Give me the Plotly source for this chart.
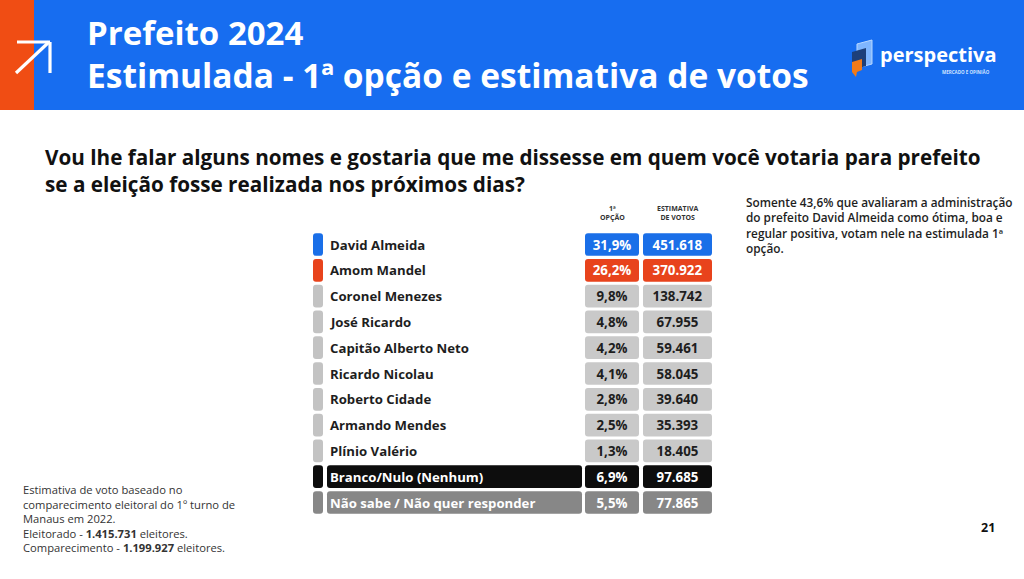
import plotly.graph_objects as go

W, H = 1024, 579

# --- dados ---
candidatos = ['David Almeida', 'Amom Mandel', 'Coronel Menezes', 'José Ricardo',
              'Capitão Alberto Neto', 'Ricardo Nicolau', 'Roberto Cidade',
              'Armando Mendes', 'Plínio Valério', 'Branco/Nulo (Nenhum)',
              'Não sabe / Não quer responder']
primeira_opcao = [31.9, 26.2, 9.8, 4.8, 4.2, 4.1, 2.8, 2.5, 1.3, 6.9, 5.5]
estimativa_votos = [451618, 370922, 138742, 67955, 59461, 58045, 39640,
                    35393, 18405, 97685, 77865]

AZUL = '#1a6fe8'
VERMELHO = '#e8431c'
CINZA = '#c9c9c9'
PRETO = '#0d0d0d'
CINZA_ESC = '#878787'

cor_marca = [AZUL, VERMELHO] + ['#c3c3c3'] * 7 + [PRETO, CINZA_ESC]
cor_celula = [AZUL, VERMELHO] + [CINZA] * 7 + [PRETO, CINZA_ESC]
cor_texto = ['white', 'white'] + ['#1e1e1e'] * 7 + ['white', 'white']
cor_nome_fundo = ['rgba(0,0,0,0)'] * 9 + [PRETO, CINZA_ESC]
cor_nome_texto = ['#1e1e1e'] * 9 + ['white', 'white']

txt_pct = [f'{v:.1f}'.replace('.', ',') + '%' for v in primeira_opcao]
txt_votos = [f'{v:,}'.replace(',', '.') for v in estimativa_votos]

FONTE = 'Open Sans'
n = len(candidatos)


def px(x):
    return x / W


def py(y):
    return 1 - y / H


fig = go.Figure()


def coluna(inicio, largura, cores, textos=None, cores_txt=None, anchor='middle', tam=14):
    fig.add_trace(go.Bar(
        y=candidatos, x=[largura] * n, base=[inicio] * n, orientation='h',
        width=0.88, marker=dict(color=cores, line=dict(width=0)),
        text=textos, textposition='inside' if textos else 'none',
        insidetextanchor=anchor, textangle=0, constraintext='none',
        textfont=dict(family=FONTE, size=tam, color=cores_txt, weight='bold'),
        hoverinfo='skip', showlegend=False, cliponaxis=False))


coluna(313, 10, cor_marca)
coluna(327, 255, cor_nome_fundo, candidatos, cor_nome_texto, 'start', 13.2)
coluna(585, 54, cor_celula, txt_pct, cor_texto, tam=13.3)
coluna(643, 69, cor_celula, txt_votos, cor_texto, tam=13.3)

shapes = [
    dict(type='rect', xref='paper', yref='paper', x0=px(0), x1=px(W), y0=py(0), y1=py(110),
         fillcolor='#176df0', line=dict(width=0), layer='below'),
    dict(type='rect', xref='paper', yref='paper', x0=px(0), x1=px(34), y0=py(0), y1=py(110),
         fillcolor='#f04d14', line=dict(width=0), layer='below'),
]
# seta
for (a, b, c, d) in [(16, 73, 49, 42), (17, 42, 50, 42), (50, 42, 50, 73)]:
    shapes.append(dict(type='line', xref='paper', yref='paper', x0=px(a), y0=py(b), x1=px(c), y1=py(d),
                       line=dict(color='white', width=3.2)))


def caminho(pts):
    return 'M ' + ' L '.join(f'{px(x):.5f},{py(y):.5f}' for x, y in pts) + ' Z'


# logo perspectiva
shapes += [
    dict(type='path', xref='paper', yref='paper', path=caminho([(857, 44), (872, 40), (872, 64), (857, 68)]),
         fillcolor='#7fb6ff', line=dict(color='#b9d8ff', width=1)),
    dict(type='path', xref='paper', yref='paper', path=caminho([(852, 52), (866, 48), (866, 66), (852, 70)]),
         fillcolor='#1d3f7a', line=dict(width=0)),
    dict(type='path', xref='paper', yref='paper', path=caminho([(852, 62), (862, 59), (862, 70), (857, 72), (856, 77), (852, 72)]),
         fillcolor='#f07a1a', line=dict(width=0)),
]

annotations = []


def texto(x, y, t, tam, cor='#111', peso='bold', xa='left', ya='middle', fam=FONTE, align='left'):
    annotations.append(dict(x=px(x), y=py(y), xref='paper', yref='paper', text=t, showarrow=False,
                            xanchor=xa, yanchor=ya, align=align,
                            font=dict(family=fam, size=tam, color=cor, weight=peso)))


texto(85, 33, 'Prefeito 2024', 33, 'white')
texto(85, 75, 'Estimulada - 1ª opção e estimativa de votos', 33.5, 'white')
texto(878, 55, 'perspectiva', 20, 'white')
texto(992, 72, 'MERCADO E OPINIÃO', 4.5, '#cfe2ff', xa='right')

texto(43, 157, 'Vou lhe falar alguns nomes e gostaria que me dissesse em quem você votaria para prefeito', 20.7)
texto(43, 184, 'se a eleição fosse realizada nos próximos dias?', 20.7)

texto(612, 213, '1ª<br>OPÇÃO', 7, '#333', xa='center', align='center')
texto(677, 213, 'ESTIMATIVA<br>DE VOTOS', 7, '#333', xa='center', align='center')

texto(744, 225, 'Somente 43,6% que avaliaram a administração<br>do prefeito David Almeida como ótima, boa e<br>'
      'regular positiva, votam nele na estimulada 1ª<br>opção.', 11.8, '#1e1e1e', peso=600)

texto(21, 518, 'Estimativa de voto baseado no<br>comparecimento eleitoral do 1º turno de<br>Manaus em 2022.<br>'
      'Eleitorado - <b>1.415.731</b> eleitores.<br>Comparecimento - <b>1.199.927</b> eleitores.',
      11.2, '#333', peso='normal')

texto(997, 527, '21', 12.5, '#111', xa='right')

fig.update_layout(
    width=W, height=H, margin=dict(l=0, r=0, t=0, b=0),
    paper_bgcolor='white', plot_bgcolor='rgba(0,0,0,0)',
    barmode='overlay', barcornerradius=3,
    xaxis=dict(domain=[px(313), px(712)], range=[313, 712], visible=False, fixedrange=True),
    yaxis=dict(domain=[py(515.4), py(231.6)], type='category', range=[n - 0.5, -0.5],
               visible=False, fixedrange=True),
    shapes=shapes, annotations=annotations,
    uniformtext=dict(mode=False),
)

fig.write_html('out.html', config={'displayModeBar': False},
               post_script="document.body.style.margin='0';")
